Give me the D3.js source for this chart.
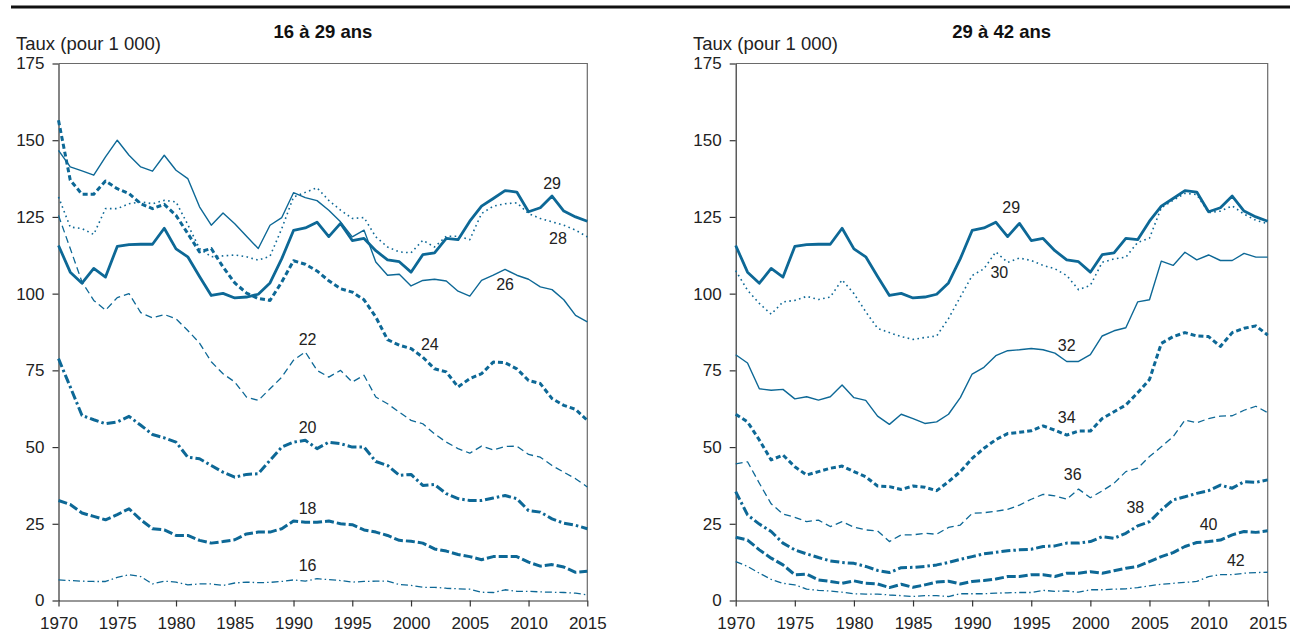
<!DOCTYPE html>
<html lang="fr">
<head>
<meta charset="utf-8">
<script src="https://cdn.jsdelivr.net/npm/d3@7"></script>
<style>
  html, body { margin: 0; padding: 0; background: #fff; }
  svg { display: block; font-family: "Liberation Sans", Arial, Helvetica, sans-serif; }
</style>
</head>
<body>
<svg id="chart" width="1290" height="633"></svg>
<script>
// Taux par âge atteint, 1970-2015 (pour 1 000)
const years = d3.range(1970, 2016);
const yTicks = [0, 25, 50, 75, 100, 125, 150, 175];
const xTicks = [1970, 1975, 1980, 1985, 1990, 1995, 2000, 2005, 2010, 2015];

const age16 = [6.7,6.5,6.3,6.2,6.2,7.5,8.4,7.8,5.4,6.3,6.0,
               5.1,5.4,5.4,4.9,5.7,6.0,5.8,5.9,6.2,6.7,
               6.3,7.1,6.8,6.5,6.0,6.2,6.3,6.3,5.2,4.9,
               4.3,4.3,4.0,3.8,3.7,2.7,2.6,3.5,3.0,3.0,
               2.8,2.7,2.6,2.4,1.8];
const age18 = [32.6,31.3,28.5,27.4,26.3,28.0,29.9,26.3,23.4,23.0,21.2,
               21.2,19.6,18.7,19.2,19.8,21.7,22.3,22.3,23.4,25.9,
               25.5,25.5,25.9,25.0,24.7,23.0,22.3,21.2,19.6,19.3,
               18.7,16.8,16.1,15.0,14.3,13.3,14.3,14.3,14.3,12.5,
               11.2,11.7,10.9,9.2,9.5];
const age20 = [78.8,69.6,60.3,58.9,57.6,58.2,60.0,57.1,54.1,53.0,51.6,
               46.7,46.2,44.0,41.8,40.2,41.1,41.3,45.7,50.0,51.6,
               52.2,49.5,51.6,51.1,50.0,50.0,45.3,44.0,40.8,41.1,
               37.5,37.8,34.8,33.2,32.6,32.6,33.4,34.2,33.2,29.3,
               28.8,26.6,25.2,24.5,23.4];
const age22 = [125.5,114.7,103.8,97.8,94.6,98.7,100.0,93.8,92.1,93.2,91.8,
               88.0,83.9,77.8,73.9,71.2,66.3,65.2,69.0,72.8,78.3,
               81.0,75.0,72.8,75.0,71.2,73.4,66.3,64.1,61.4,58.7,
               57.6,54.3,51.6,49.5,48.0,50.3,49.1,50.2,50.3,47.6,
               46.7,44.0,41.8,39.7,37.0];
const age24 = [156.5,137.0,132.4,132.4,136.7,134.2,132.6,129.3,127.7,129.1,125.5,
               119.6,113.6,114.7,108.7,103.5,100.2,98.4,97.8,103.8,110.7,
               109.6,107.4,104.2,101.6,100.5,98.0,92.4,85.0,83.2,82.1,
               79.3,75.5,74.5,69.6,72.3,73.9,77.7,77.5,75.5,71.7,
               70.7,65.8,63.6,62.3,58.7];
const age26 = [146.7,141.3,140.0,138.6,144.6,150.0,145.1,141.3,139.9,145.1,140.2,
               137.5,128.3,122.3,126.3,122.8,118.7,114.7,122.3,124.8,132.9,
               131.3,130.3,127.2,123.4,118.5,120.7,110.3,106.0,106.3,102.5,
               104.3,104.7,104.1,100.8,99.2,104.3,106.0,107.9,106.0,104.7,
               102.2,101.3,98.0,92.9,90.8];
const age28 = [131.5,121.7,121.2,119.3,127.7,127.7,129.3,129.9,129.3,130.4,129.9,
               122.5,114.7,112.0,112.3,112.6,112.0,110.9,112.2,121.2,131.5,
               133.0,134.5,130.4,127.2,124.5,124.8,118.5,115.2,113.6,113.3,
               117.4,115.2,118.7,118.7,117.6,126.1,128.5,129.3,129.6,126.1,
               124.5,123.4,122.3,120.7,118.5];
const age29 = [115.7,107.0,103.4,108.2,105.4,115.4,116.0,116.1,116.1,121.3,114.6,
               112.0,105.6,99.4,100.1,98.6,98.9,99.8,103.5,111.4,120.6,
               121.4,123.3,118.6,122.9,117.3,118.0,114.0,111.0,110.4,107.0,
               112.7,113.3,118.0,117.6,123.6,128.5,131.0,133.6,133.1,126.7,
               128.0,131.8,126.9,125.0,123.6];
const age30 = [107.5,101.1,96.8,93.3,97.3,97.8,99.1,98.1,98.9,104.5,100.0,
               94.1,88.7,87.3,86.0,85.1,85.7,86.2,91.9,98.9,105.9,
               108.1,113.6,110.2,111.6,110.8,109.2,108.1,105.9,101.3,102.7,
               110.2,111.3,111.9,116.7,118.1,128.0,130.4,132.7,132.3,126.4,
               126.9,128.6,125.9,123.9,122.8];
const age32 = [80.1,77.4,69.0,68.5,68.8,65.7,66.4,65.3,66.4,70.2,66.1,
               65.2,60.1,57.4,60.7,59.3,57.7,58.2,60.7,66.1,73.8,
               76.0,79.8,81.4,81.7,82.1,81.7,80.6,77.9,77.9,80.1,
               86.2,87.9,88.9,97.3,98.0,110.6,109.2,113.5,111.0,112.6,
               110.8,110.8,113.1,111.9,111.9];
const age34 = [60.7,58.2,52.3,45.8,47.4,43.6,40.9,42.0,43.1,43.8,42.0,
               40.3,37.3,37.1,36.2,37.3,36.9,35.8,38.7,42.0,46.3,
               49.6,52.4,54.4,54.8,55.3,56.9,55.5,53.9,55.2,55.2,
               59.3,61.5,63.7,67.7,72.0,83.8,86.0,87.3,86.2,86.0,
               82.8,87.3,88.7,89.5,86.5];
const age36 = [44.5,45.2,38.2,31.5,28.2,27.1,25.7,26.2,24.1,25.7,23.9,
               23.0,22.7,19.2,21.4,21.4,21.9,21.6,23.8,24.6,28.4,
               28.6,29.1,29.7,31.1,33.0,34.6,34.1,33.0,36.3,33.5,
               35.7,38.2,42.0,43.1,46.9,50.1,53.4,58.8,57.9,59.3,
               60.1,60.2,62.0,63.3,61.2];
const age38 = [35.5,27.9,24.9,22.5,18.7,16.5,15.2,14.0,12.9,12.4,12.1,
               11.1,9.8,9.1,10.7,10.8,11.1,11.6,12.4,13.4,14.3,
               15.2,15.7,16.2,16.5,16.7,17.6,17.8,18.7,18.7,19.2,
               20.8,20.3,21.9,24.3,25.7,29.5,32.8,33.8,34.9,35.8,
               37.6,36.6,38.7,38.5,39.3];
const age40 = [20.6,19.7,16.5,13.8,11.6,8.4,8.6,6.7,6.2,5.6,6.4,
               5.6,5.4,4.2,5.3,4.3,5.1,6.0,6.3,5.4,6.2,
               6.5,7.0,7.8,7.8,8.4,8.4,7.8,8.9,8.9,9.4,
               8.9,9.7,10.5,11.1,12.7,14.3,15.6,17.6,18.9,19.2,
               19.7,21.4,22.5,22.2,22.7];
const age42 = [12.7,11.1,8.9,6.9,5.6,5.1,3.7,3.3,3.1,2.7,2.2,
               2.1,2.1,1.8,1.6,1.3,1.6,1.6,1.3,2.2,2.2,
               2.2,2.4,2.5,2.6,2.6,3.3,3.0,3.1,2.7,3.5,
               3.5,3.7,3.8,4.2,4.8,5.3,5.6,5.9,6.2,7.8,
               8.4,8.4,8.9,9.1,9.2];

const seriesByAge = {16: age16, 18: age18, 20: age20, 22: age22, 24: age24, 26: age26, 28: age28,
                     29: age29, 30: age30, 32: age32, 34: age34, 36: age36, 38: age38, 40: age40, 42: age42};

// Ages shown in each panel, and where each age label sits (year, rate)
const leftAges = [16, 18, 20, 22, 24, 26, 28, 29];
const rightAges = [29, 30, 32, 34, 36, 38, 40, 42];
const leftLabels = [
  {age: 29, year: 2012, rate: 135.5}, {age: 28, year: 2012.5, rate: 117.5},
  {age: 26, year: 2008, rate: 102.5}, {age: 24, year: 2001.6, rate: 83},
  {age: 22, year: 1991.2, rate: 84.5}, {age: 20, year: 1991.2, rate: 56},
  {age: 18, year: 1991.2, rate: 29.6}, {age: 16, year: 1991.2, rate: 11}
];
const rightLabels = [
  {age: 29, year: 1993.3, rate: 127.5}, {age: 30, year: 1992.3, rate: 106.5},
  {age: 32, year: 1998, rate: 82.8}, {age: 34, year: 1998, rate: 59.3},
  {age: 36, year: 1998.5, rate: 40.5}, {age: 38, year: 2003.8, rate: 29.8},
  {age: 40, year: 2010, rate: 24.4}, {age: 42, year: 2012.3, rate: 12.7}
];

// Line style for each age
const blue = "#0d6896";
const styleByAge = {
  16: {w: 1.3, dash: "7,3,1.5,3"},
  18: {w: 3.0, dash: "9,3"},
  20: {w: 3.0, dash: "9,3,2.5,3"},
  22: {w: 1.3, dash: "7,4"},
  24: {w: 3.0, dash: "5,3"},
  26: {w: 1.4, dash: null},
  28: {w: 1.6, dash: "1.6,3.4"},
  29: {w: 2.8, dash: null},
  30: {w: 1.6, dash: "1.6,3.4"},
  32: {w: 1.4, dash: null},
  34: {w: 3.0, dash: "5,3"},
  36: {w: 1.3, dash: "7,4"},
  38: {w: 3.0, dash: "9,3,2.5,3"},
  40: {w: 3.0, dash: "9,3"},
  42: {w: 1.3, dash: "7,3,1.5,3"}
};

const svg = d3.select("#chart");

// Rule across the top of the figure
svg.append("line")
  .attr("x1", 11).attr("x2", 1290).attr("y1", 7).attr("y2", 7)
  .attr("stroke", "#111").attr("stroke-width", 3);

const panels = [
  {title: "16 à 29 ans", ages: leftAges, labels: leftLabels, x0: 58.5, x1: 587.3, lab: 16},
  {title: "29 à 42 ans", ages: rightAges, labels: rightLabels, x0: 735.7, x1: 1267.7, lab: 693}
];
const yTop = 63.5, yBot = 600.5;

panels.forEach(p => {
  const x = d3.scaleLinear().domain([1970, 2015]).range([p.x0, p.x1]);
  const y = d3.scaleLinear().domain([0, 175]).range([yBot, yTop]);
  const g = svg.append("g");

  // Frame: top and right edges
  g.append("path")
    .attr("d", `M${p.x0},${yTop}H${p.x1}V${yBot}`)
    .attr("fill", "none").attr("stroke", "#6a6a6a").attr("stroke-width", 1.2);

  const yAxis = g.append("g").attr("transform", `translate(${p.x0},0)`)
    .call(d3.axisLeft(y).tickValues(yTicks).tickSize(6).tickSizeOuter(0).tickPadding(8));
  const xAxis = g.append("g").attr("transform", `translate(0,${yBot})`)
    .call(d3.axisBottom(x).tickValues(xTicks).tickFormat(d3.format("d")).tickSize(6).tickSizeOuter(0).tickPadding(10));
  [yAxis, xAxis].forEach(a => {
    a.select(".domain").attr("stroke", "#333").attr("stroke-width", 1.2);
    a.selectAll(".tick line").attr("stroke", "#333").attr("stroke-width", 1.2);
    a.selectAll(".tick text").attr("fill", "#222").style("font-size", "17px")
      .style("font-family", "'Liberation Sans', Arial, sans-serif");
  });

  g.append("text").attr("x", p.lab).attr("y", 50)
    .attr("fill", "#222").style("font-size", "18.5px").text("Taux (pour 1 000)");
  g.append("text").attr("x", (p.x0 + p.x1) / 2).attr("y", 38)
    .attr("text-anchor", "middle").attr("fill", "#111")
    .style("font-size", "18.5px").style("font-weight", "bold").text(p.title);

  const line = d3.line().x((d, i) => x(years[i])).y(d => y(d));
  p.ages.forEach(age => {
    const s = styleByAge[age];
    g.append("path")
      .datum(seriesByAge[age])
      .attr("d", line)
      .attr("fill", "none")
      .attr("stroke", blue)
      .attr("stroke-width", s.w)
      .attr("stroke-linejoin", "round")
      .attr("stroke-dasharray", s.dash);
  });

  g.selectAll("text.age").data(p.labels).join("text")
    .attr("class", "age")
    .attr("x", d => x(d.year)).attr("y", d => y(d.rate))
    .attr("text-anchor", "middle").attr("dominant-baseline", "middle")
    .attr("fill", "#222").style("font-size", "16px")
    .text(d => d.age);
});
</script>
</body>
</html>
